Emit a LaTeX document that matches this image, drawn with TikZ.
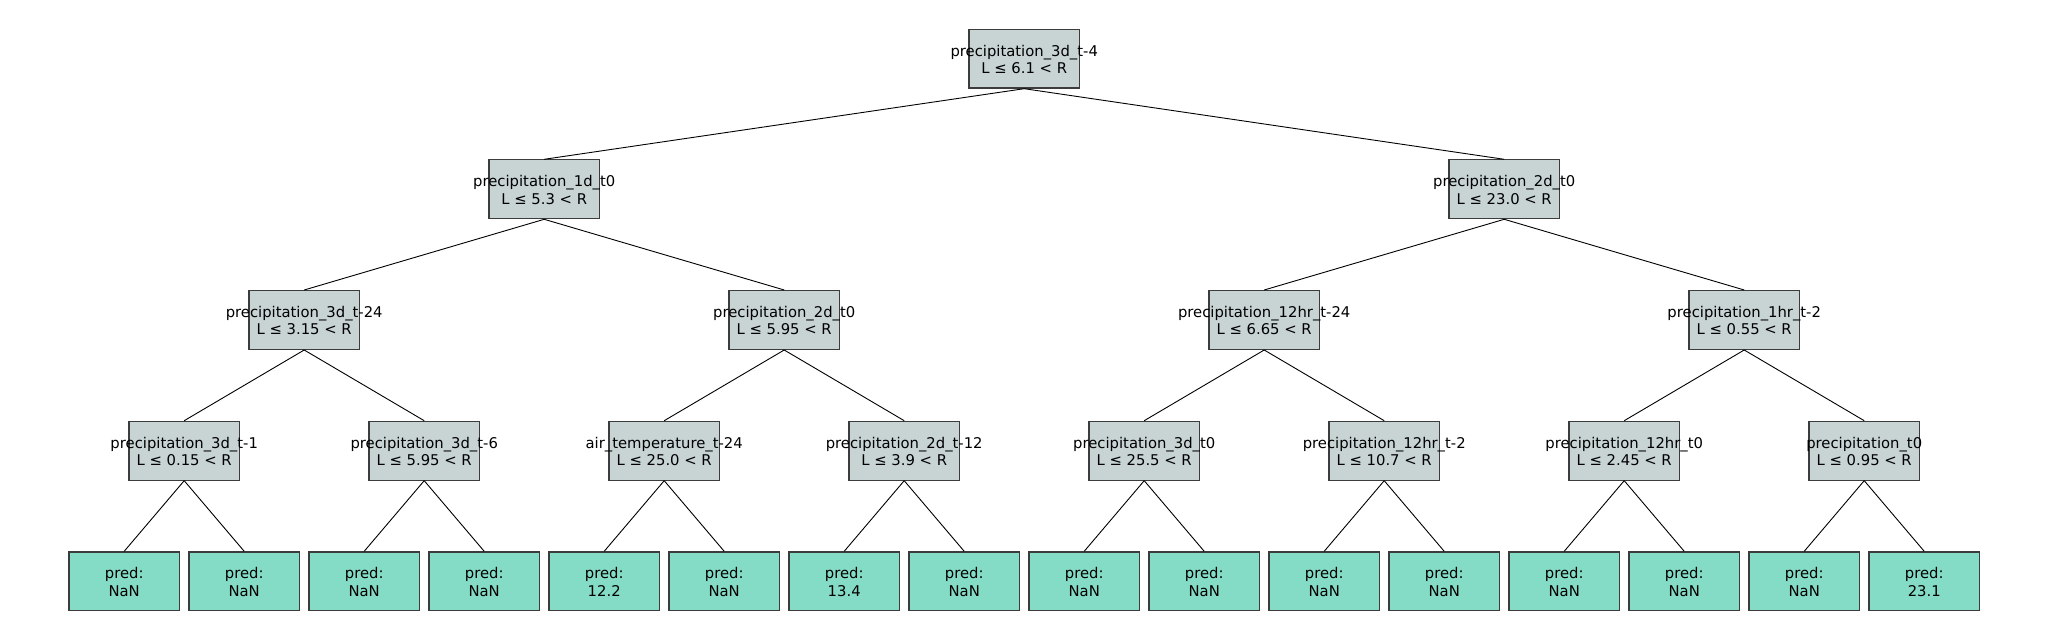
\documentclass[tikz,border=0pt]{standalone}
\usepackage{fontspec}
\setmainfont{DejaVu Sans}
\definecolor{splitfill}{RGB}{200,212,212}
\definecolor{leaffill}{RGB}{132,220,198}
\definecolor{edgegray}{RGB}{60,60,60}
\newcommand\twolines[2]{\makebox[0pt]{\raisebox{-1.4pt}[\height][\depth]{\begin{tabular}{@{}c@{}}#1\\#2\end{tabular}}}}
\tikzset{
  splitbox/.style={draw=edgegray, line width=0.6pt, fill=splitfill, minimum width=55.3pt, minimum height=29.4pt, inner sep=0pt, font=\fontsize{7.4}{8.7}\selectfont},
  leafbox/.style={draw=edgegray, line width=0.6pt, fill=leaffill, minimum width=55.3pt, minimum height=29.4pt, inner sep=0pt, font=\fontsize{7.4}{8.7}\selectfont},
  link/.style={draw=black, line width=0.45pt}
}
\begin{document}
\begin{tikzpicture}[x=0.5pt,y=-0.5pt]
\useasboundingbox (0,0) rectangle (2048,640);
% root
\node[splitbox] (r) at (1024.2,58.7) {\twolines{precipitation\_3d\_t-4}{L ≤ 6.1 < R}};
% level 1
\node[splitbox] (a) at (544.2,189.3) {\twolines{precipitation\_1d\_t0}{L ≤ 5.3 < R}};
\node[splitbox] (b) at (1504.2,189.3) {\twolines{precipitation\_2d\_t0}{L ≤ 23.0 < R}};
% level 2
\node[splitbox] (aa) at (304.2,320) {\twolines{precipitation\_3d\_t-24}{L ≤ 3.15 < R}};
\node[splitbox] (ab) at (784.2,320) {\twolines{precipitation\_2d\_t0}{L ≤ 5.95 < R}};
\node[splitbox] (ba) at (1264.2,320) {\twolines{precipitation\_12hr\_t-24}{L ≤ 6.65 < R}};
\node[splitbox] (bb) at (1744.2,320) {\twolines{precipitation\_1hr\_t-2}{L ≤ 0.55 < R}};
% level 3
\node[splitbox] (c1) at (184.2,450.7) {\twolines{precipitation\_3d\_t-1}{L ≤ 0.15 < R}};
\node[splitbox] (c2) at (424.2,450.7) {\twolines{precipitation\_3d\_t-6}{L ≤ 5.95 < R}};
\node[splitbox] (c3) at (664.2,450.7) {\twolines{air\_temperature\_t-24}{L ≤ 25.0 < R}};
\node[splitbox] (c4) at (904.2,450.7) {\twolines{precipitation\_2d\_t-12}{L ≤ 3.9 < R}};
\node[splitbox] (c5) at (1144.2,450.7) {\twolines{precipitation\_3d\_t0}{L ≤ 25.5 < R}};
\node[splitbox] (c6) at (1384.2,450.7) {\twolines{precipitation\_12hr\_t-2}{L ≤ 10.7 < R}};
\node[splitbox] (c7) at (1624.2,450.7) {\twolines{precipitation\_12hr\_t0}{L ≤ 2.45 < R}};
\node[splitbox] (c8) at (1864.2,450.7) {\twolines{precipitation\_t0}{L ≤ 0.95 < R}};
% leaves
\foreach \v [count=\i from 0] in {NaN,NaN,NaN,NaN,12.2,NaN,13.4,NaN,NaN,NaN,NaN,NaN,NaN,NaN,NaN,23.1}{
  \node[leafbox] (l\i) at ({124.2+120*\i},581.3) {\twolines{pred:}{\v}};
}
% links
\draw[link] (r.south) -- (a.north);
\draw[link] (r.south) -- (b.north);
\draw[link] (a.south) -- (aa.north);
\draw[link] (a.south) -- (ab.north);
\draw[link] (b.south) -- (ba.north);
\draw[link] (b.south) -- (bb.north);
\draw[link] (aa.south) -- (c1.north);
\draw[link] (aa.south) -- (c2.north);
\draw[link] (ab.south) -- (c3.north);
\draw[link] (ab.south) -- (c4.north);
\draw[link] (ba.south) -- (c5.north);
\draw[link] (ba.south) -- (c6.north);
\draw[link] (bb.south) -- (c7.north);
\draw[link] (bb.south) -- (c8.north);
\foreach \p/\x/\y in {1/0/1,2/2/3,3/4/5,4/6/7,5/8/9,6/10/11,7/12/13,8/14/15}{
  \draw[link] (c\p.south) -- (l\x.north);
  \draw[link] (c\p.south) -- (l\y.north);
}
\end{tikzpicture}
\end{document}
